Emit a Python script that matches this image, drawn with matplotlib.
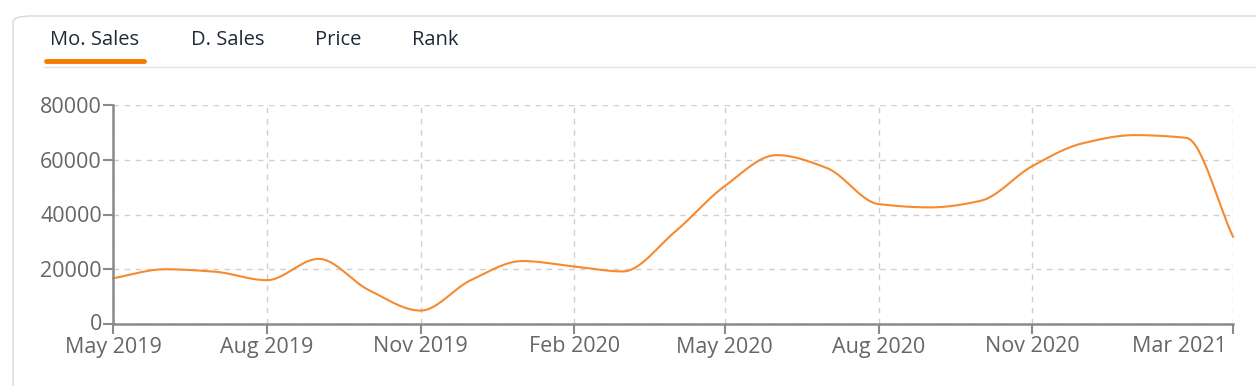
import matplotlib
matplotlib.use("Agg")
import matplotlib.pyplot as plt
import matplotlib.dates as mdates
import matplotlib.transforms as mtransforms
from matplotlib.patches import FancyBboxPatch
import numpy as np
import pandas as pd

# monthly sales
months = pd.date_range("2019-05-01", "2021-03-01", freq="MS")
sales = [16700, 20000, 19100, 16000, 23800, 12400, 4900, 16000, 23000, 21000,
         19200, 33600, 50400, 61700, 57000, 43800, 42600, 45000, 57700, 66000,
         69000, 68000, 31900]

tabs = ["Mo. Sales", "D. Sales", "Price", "Rank"]
tick_dates = ["2019-05-01", "2019-08-01", "2019-11-01", "2020-02-01",
              "2020-05-01", "2020-08-01", "2020-11-01", "2021-03-01"]
tick_labels = ["May 2019", "Aug 2019", "Nov 2019", "Feb 2020",
               "May 2020", "Aug 2020", "Nov 2020", "Mar 2021"]
y_ticks = [0, 20000, 40000, 60000, 80000]

ORANGE = "#f78a2e"
AXIS_GRAY = "#8a8a8a"
TEXT_GRAY = "#666666"

plt.rcParams["font.family"] = ["Open Sans", "DejaVu Sans"]


def monotone_curve(x, y, n=30):
    # monotone cubic (Fritsch-Carlson), like d3 curveMonotoneX
    x = np.asarray(x, float)
    y = np.asarray(y, float)
    h = np.diff(x)
    d = np.diff(y) / h
    m = np.zeros_like(y)
    m[0], m[-1] = d[0], d[-1]
    for i in range(1, len(y) - 1):
        if d[i - 1] * d[i] > 0:
            w1 = 2 * h[i] + h[i - 1]
            w2 = h[i] + 2 * h[i - 1]
            m[i] = (w1 + w2) / (w1 / d[i - 1] + w2 / d[i])
    xs, ys = [], []
    for i in range(len(x) - 1):
        t = np.linspace(0, 1, n, endpoint=False)
        h00 = 2 * t**3 - 3 * t**2 + 1
        h10 = t**3 - 2 * t**2 + t
        h01 = -2 * t**3 + 3 * t**2
        h11 = t**3 - t**2
        xs.append(x[i] + t * h[i])
        ys.append(h00 * y[i] + h10 * h[i] * m[i] + h01 * y[i + 1] + h11 * h[i] * m[i + 1])
    xs.append([x[-1]])
    ys.append([y[-1]])
    return np.concatenate(xs), np.concatenate(ys)


fig = plt.figure(figsize=(12.56, 3.86), dpi=100)
W, H = 1256, 386

# card border
card = FancyBboxPatch((13 / W, -0.1), 1.2, (H - 16) / H + 0.1,
                      boxstyle="round,pad=0,rounding_size=0.015",
                      transform=fig.transFigure, facecolor="none",
                      edgecolor="#d3dae2", linewidth=1.0, zorder=-10)
fig.patches.append(card)

# tabs
tab_x = [95, 228, 338, 435]
for label, x in zip(tabs, tab_x):
    fig.text(x / W, 1 - 40 / H, label, ha="center", va="center",
             fontsize=14.5, color="#1f2a36")
fig.add_artist(plt.Line2D([44 / W, 1.0], [1 - 66.5 / H] * 2, color="#dde3e9",
                          linewidth=1.0, transform=fig.transFigure))
fig.add_artist(plt.Line2D([46 / W, 144 / W], [1 - 61 / H] * 2, color="#f57c00",
                          linewidth=3.5, solid_capstyle="round",
                          transform=fig.transFigure))

ax = fig.add_axes([113 / W, 1 - 324 / H, (1233 - 113) / W, (324 - 105) / H])
ax.patch.set_alpha(0)

xnum = mdates.date2num(months)
cx, cy = monotone_curve(xnum, sales)
ax.plot(cx, cy, color=ORANGE, linewidth=1.5, clip_on=False)

ax.set_xlim(xnum[0], xnum[-1])
ax.set_ylim(0, 80000)
ax.set_yticks(y_ticks)
ax.set_yticklabels([str(v) for v in y_ticks])
tick_nums = mdates.date2num(pd.to_datetime(tick_dates))
ax.set_xticks(tick_nums)
ax.set_xticklabels(tick_labels)

ax.grid(True, color="#cfcfcf", linestyle=(0, (4, 4)), linewidth=1.0)
ax.set_axisbelow(True)
for side in ["top", "right"]:
    ax.spines[side].set_visible(False)
for side in ["left", "bottom"]:
    ax.spines[side].set_color(AXIS_GRAY)
    ax.spines[side].set_linewidth(1.8)

ax.tick_params(axis="both", colors=AXIS_GRAY, labelcolor=TEXT_GRAY,
               labelsize=15.5, length=7, width=1.5, pad=1)
ax.tick_params(axis="x", pad=2)

last = ax.get_xticklabels()[-1]
last.set_ha("right")
last.set_transform(last.get_transform() +
                   mtransforms.ScaledTranslation(-6 / 100, 0, fig.dpi_scale_trans))

# keep the "0" label clear of "May 2019" below it
zero = ax.get_yticklabels()[0]
zero.set_transform(zero.get_transform() +
                   mtransforms.ScaledTranslation(0, 2 / 100, fig.dpi_scale_trans))

fig.savefig("out.png", dpi=100)
